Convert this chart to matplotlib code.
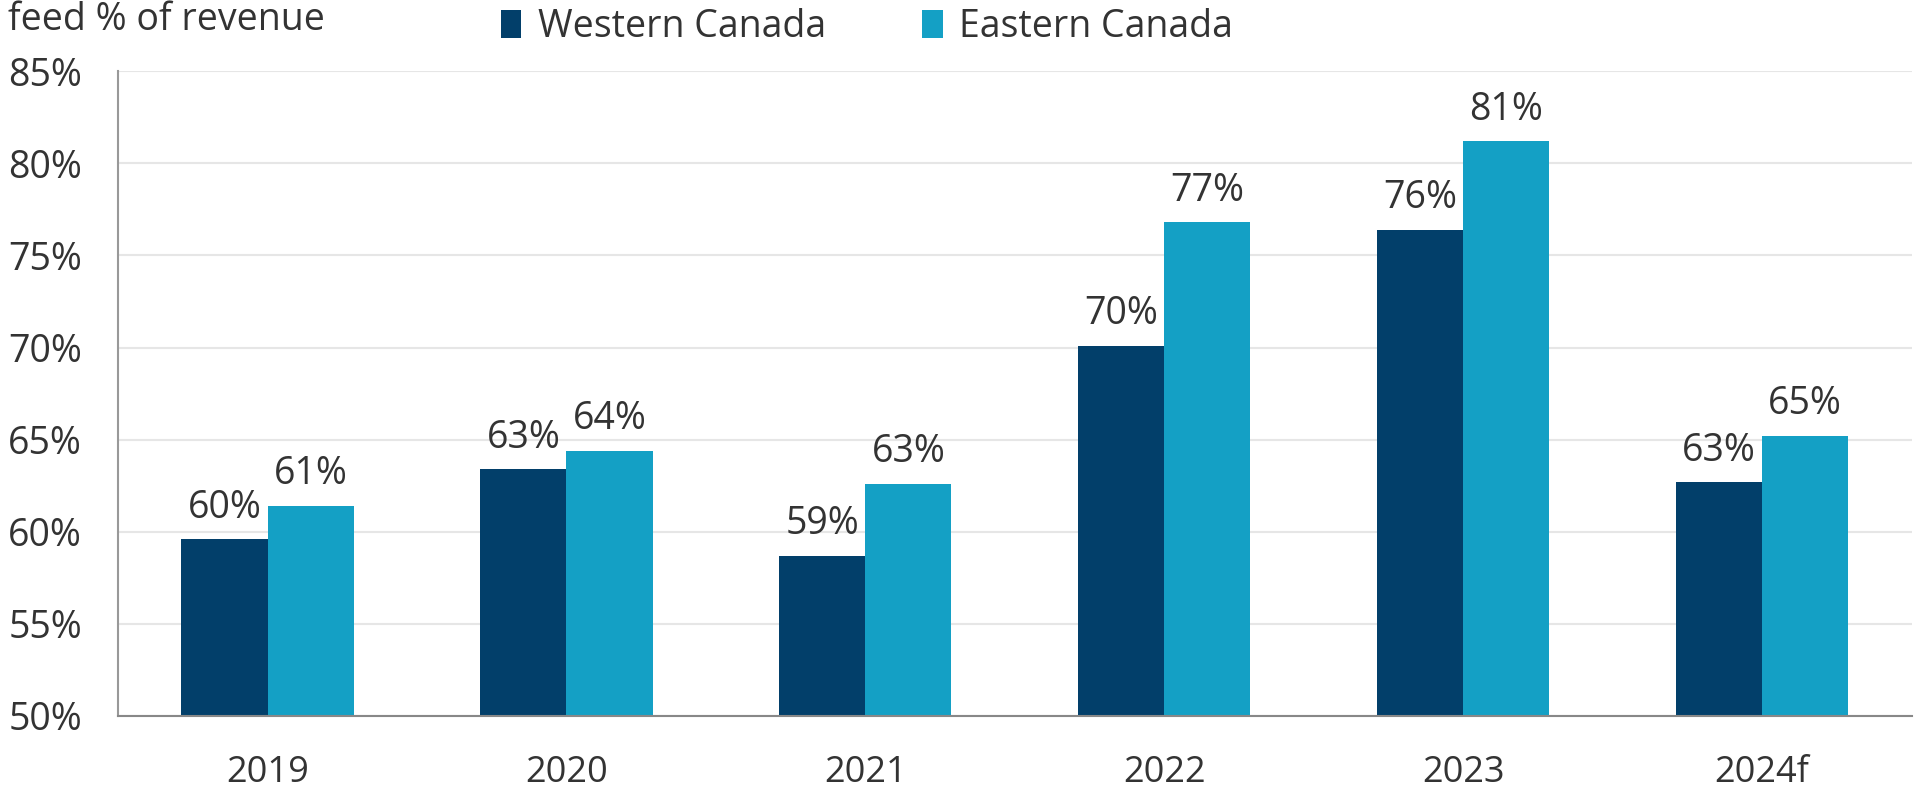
import matplotlib.pyplot as plt
import numpy as np

years = ['2019', '2020', '2021', '2022', '2023', '2024f']
western = [59.6, 63.4, 58.7, 70.1, 76.4, 62.7]
eastern = [61.4, 64.4, 62.6, 76.8, 81.2, 65.2]
yticks = [50, 55, 60, 65, 70, 75, 80, 85]

plt.rcParams['font.family'] = ['Open Sans', 'DejaVu Sans']

fig = plt.figure(figsize=(19.14, 7.92), dpi=100)
ax = fig.add_axes([0.0617, 0.096, 0.937, 0.814])

x = np.arange(len(years))
w = 0.288
dark = '#023f6a'
light = '#14a0c5'
txt = '#333333'
ax.bar(x - w / 2, western, w, bottom=0, color=dark, label='Western Canada', zorder=2)
ax.bar(x + w / 2, eastern, w, bottom=0, color=light, label='Eastern Canada', zorder=2)

# value labels above bars
for i in range(len(years)):
    ax.annotate(f'{western[i]:.0f}%', (x[i] - w / 2, western[i]), xytext=(0, 9),
                textcoords='offset points', ha='center', va='bottom', fontsize=27, color=txt)
    ax.annotate(f'{eastern[i]:.0f}%', (x[i] + w / 2, eastern[i]), xytext=(0, 9),
                textcoords='offset points', ha='center', va='bottom', fontsize=27, color=txt)

ax.set_ylim(50, 85)
ax.set_xlim(-0.5, len(years) - 0.5)
ax.set_yticks(yticks)
ax.set_yticklabels([f'{t}%' for t in yticks], fontsize=27, color=txt)
ax.set_xticks(x)
ax.set_xticklabels(years, fontsize=26, color=txt)
ax.tick_params(axis='y', length=0, pad=26)
ax.tick_params(axis='x', length=0, pad=28)
ax.grid(axis='y', color='#e6e6e6', linewidth=1.5, zorder=0)
ax.set_axisbelow(True)
for s in ['top', 'right']:
    ax.spines[s].set_visible(False)
ax.spines['left'].set_color('#999999')
ax.spines['bottom'].set_color('#888888')
ax.spines['left'].set_linewidth(1.5)
ax.spines['bottom'].set_linewidth(1.5)

fig.text(0.004, 0.975, 'feed % of revenue', fontsize=27, color=txt, ha='left', va='center')
fig.legend(loc='center', bbox_to_anchor=(0.453, 0.966), ncol=2, frameon=False, fontsize=27,
           handlelength=0.55, handleheight=0.75, handletextpad=0.45, columnspacing=2.55,
           labelcolor=txt)

fig.savefig('out.png', dpi=100)
